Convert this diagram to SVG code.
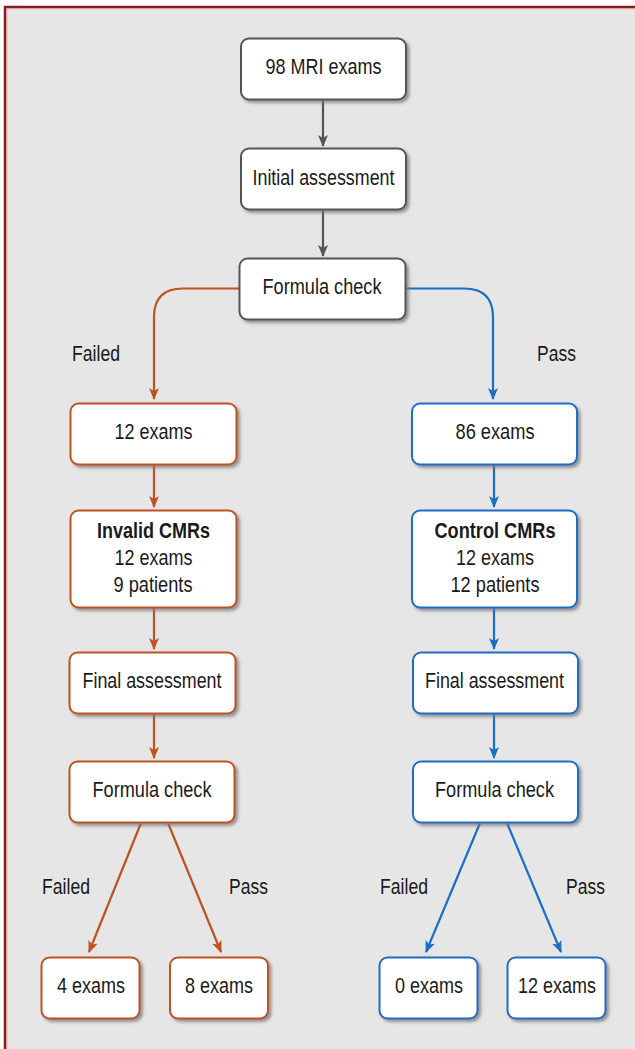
<svg xmlns="http://www.w3.org/2000/svg" width="635" height="1049" viewBox="0 0 635 1049">
<style>
.t{font-family:"Liberation Sans",Arial,sans-serif;font-size:21.5px;fill:#1a1a1a;text-anchor:middle}
.b{font-weight:bold}
.lbl{text-anchor:start}
.n{fill:#fff;stroke-width:2;filter:url(#sh)}
.g{stroke:#555}
.o{stroke:#C0521F}
.bl{stroke:#1A6EC6}
.c{fill:none;stroke-width:2.2}
</style>
<defs>
<filter id="sh" x="-10%" y="-10%" width="130%" height="140%">
<feDropShadow dx="2.5" dy="2.5" stdDeviation="1.4" flood-color="#777" flood-opacity="0.75"/>
</filter>
<marker id="ag" viewBox="0 0 12 10" refX="11" refY="5" markerWidth="12" markerHeight="10" markerUnits="userSpaceOnUse" orient="auto"><path d="M0,0 L12,5 L0,10 L3,5 Z" fill="#555"/></marker>
<marker id="ao" viewBox="0 0 12 10" refX="11" refY="5" markerWidth="12" markerHeight="10" markerUnits="userSpaceOnUse" orient="auto"><path d="M0,0 L12,5 L0,10 L3,5 Z" fill="#C0521F"/></marker>
<marker id="ab" viewBox="0 0 12 10" refX="11" refY="5" markerWidth="12" markerHeight="10" markerUnits="userSpaceOnUse" orient="auto"><path d="M0,0 L12,5 L0,10 L3,5 Z" fill="#1A6EC6"/></marker>
</defs>
<rect x="0" y="0" width="635" height="1049" fill="#fff"/>
<rect x="5" y="7" width="660" height="1080" fill="#E6E6E6" stroke="#8E1B1B" stroke-width="2.5"/>
<path d="M6.8,1049 V8.8 H635" fill="none" stroke="#D9A0A0" stroke-width="1"/>

<g id="connectors">
<path class="c g" d="M323,99 V146" marker-end="url(#ag)"/>
<path class="c g" d="M323,209 V256" marker-end="url(#ag)"/>
<path class="c o" d="M239,288.5 H183 Q154,288.5 154,317 V399" marker-end="url(#ao)"/>
<path class="c bl" d="M405,288.5 H464 Q493,288.5 493,317 V399" marker-end="url(#ab)"/>
<path class="c o" d="M154,464 V507" marker-end="url(#ao)"/>
<path class="c o" d="M154,607 V649" marker-end="url(#ao)"/>
<path class="c o" d="M154,713 V758" marker-end="url(#ao)"/>
<path class="c bl" d="M494,464 V507" marker-end="url(#ab)"/>
<path class="c bl" d="M494,607 V649" marker-end="url(#ab)"/>
<path class="c bl" d="M494,713 V758" marker-end="url(#ab)"/>
<path class="c o" d="M141,823 L89,952" marker-end="url(#ao)"/>
<path class="c o" d="M168,823 L221,952" marker-end="url(#ao)"/>
<path class="c bl" d="M480,823 L426,952" marker-end="url(#ab)"/>
<path class="c bl" d="M507,823 L561,952" marker-end="url(#ab)"/>
</g>

<g id="labels">
<text class="t lbl" x="72" y="361" textLength="48" lengthAdjust="spacingAndGlyphs">Failed</text>
<text class="t lbl" x="537" y="361" textLength="39" lengthAdjust="spacingAndGlyphs">Pass</text>
<text class="t lbl" x="42" y="894" textLength="48" lengthAdjust="spacingAndGlyphs">Failed</text>
<text class="t lbl" x="229" y="894" textLength="39" lengthAdjust="spacingAndGlyphs">Pass</text>
<text class="t lbl" x="380" y="894" textLength="48" lengthAdjust="spacingAndGlyphs">Failed</text>
<text class="t lbl" x="566" y="894" textLength="39" lengthAdjust="spacingAndGlyphs">Pass</text>
</g>

<g id="n-mri"><rect class="n g" x="241" y="38.5" width="165" height="61" rx="8"/><text class="t" x="323.5" y="74" textLength="116" lengthAdjust="spacingAndGlyphs">98 MRI exams</text></g>
<g id="n-initial"><rect class="n g" x="241" y="148.5" width="165" height="61" rx="8"/><text class="t" x="323.5" y="185" textLength="142" lengthAdjust="spacingAndGlyphs">Initial assessment</text></g>
<g id="n-formula"><rect class="n g" x="239.5" y="258.5" width="166" height="61" rx="8"/><text class="t" x="322" y="294" textLength="119" lengthAdjust="spacingAndGlyphs">Formula check</text></g>

<g id="n-12exams"><rect class="n o" x="70.5" y="403.5" width="166" height="61" rx="8"/><text class="t" x="153.5" y="439" textLength="78" lengthAdjust="spacingAndGlyphs">12 exams</text></g>
<g id="n-invalid"><rect class="n o" x="70.5" y="510.5" width="166" height="97" rx="8"/><text class="t b" x="153.5" y="538" textLength="113" lengthAdjust="spacingAndGlyphs">Invalid CMRs</text><text class="t" x="153.5" y="565" textLength="78" lengthAdjust="spacingAndGlyphs">12 exams</text><text class="t" x="153" y="592" textLength="79" lengthAdjust="spacingAndGlyphs">9 patients</text></g>
<g id="n-final-l"><rect class="n o" x="69.5" y="652.5" width="166" height="61" rx="8"/><text class="t" x="152" y="688" textLength="139" lengthAdjust="spacingAndGlyphs">Final assessment</text></g>
<g id="n-formula-l"><rect class="n o" x="69.5" y="761.5" width="165" height="61" rx="8"/><text class="t" x="152" y="797" textLength="119" lengthAdjust="spacingAndGlyphs">Formula check</text></g>
<g id="n-4"><rect class="n o" x="41.5" y="957.5" width="98" height="61" rx="8"/><text class="t" x="91" y="993" textLength="68" lengthAdjust="spacingAndGlyphs">4 exams</text></g>
<g id="n-8"><rect class="n o" x="170" y="957.5" width="98" height="61" rx="8"/><text class="t" x="219" y="993" textLength="68" lengthAdjust="spacingAndGlyphs">8 exams</text></g>

<g id="n-86exams"><rect class="n bl" x="412" y="403.5" width="165" height="61" rx="8"/><text class="t" x="495" y="439" textLength="79" lengthAdjust="spacingAndGlyphs">86 exams</text></g>
<g id="n-control"><rect class="n bl" x="412" y="510.5" width="165" height="97" rx="8"/><text class="t b" x="495" y="538" textLength="121" lengthAdjust="spacingAndGlyphs">Control CMRs</text><text class="t" x="495" y="565" textLength="78" lengthAdjust="spacingAndGlyphs">12 exams</text><text class="t" x="495" y="592" textLength="89" lengthAdjust="spacingAndGlyphs">12 patients</text></g>
<g id="n-final-r"><rect class="n bl" x="413" y="652.5" width="165" height="61" rx="8"/><text class="t" x="494.5" y="688" textLength="139" lengthAdjust="spacingAndGlyphs">Final assessment</text></g>
<g id="n-formula-r"><rect class="n bl" x="413" y="761.5" width="165" height="61" rx="8"/><text class="t" x="494.5" y="797" textLength="119" lengthAdjust="spacingAndGlyphs">Formula check</text></g>
<g id="n-0"><rect class="n bl" x="379.5" y="957.5" width="98" height="61" rx="8"/><text class="t" x="429" y="993" textLength="68" lengthAdjust="spacingAndGlyphs">0 exams</text></g>
<g id="n-12"><rect class="n bl" x="507.5" y="957.5" width="98" height="61" rx="8"/><text class="t" x="557" y="993" textLength="78" lengthAdjust="spacingAndGlyphs">12 exams</text></g>
</svg>
